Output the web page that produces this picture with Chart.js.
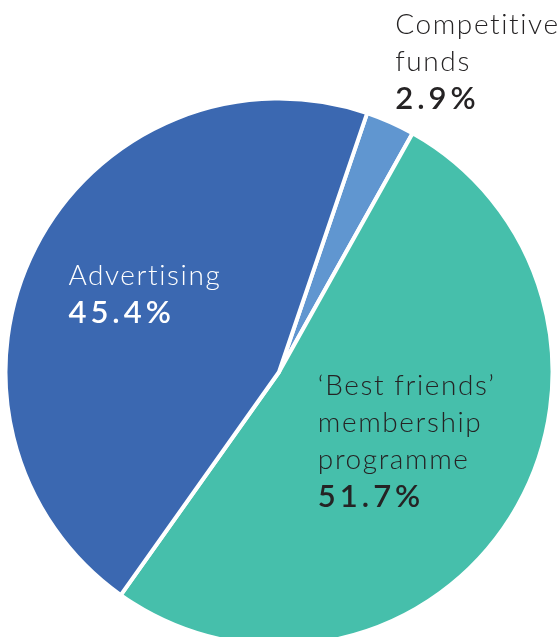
<!DOCTYPE html>
<html>
<head>
<meta charset="utf-8">
<script src="https://cdn.jsdelivr.net/npm/chart.js@4.4.1/dist/chart.umd.min.js"></script>
<style>
  html, body { margin: 0; padding: 0; background: #ffffff; overflow: hidden; }
  #wrap { width: 558px; height: 637px; position: relative; }
  canvas { display: block; }
</style>
</head>
<body>
<div id="wrap"><canvas id="pie" width="558" height="637"></canvas></div>
<script>
// Share of members by recruitment channel
const categories = ["Competitive funds", "'Best friends' membership programme", "Advertising"];
const shares = [2.9, 51.7, 45.4];
const labelLines = [
  ["Competitive", "funds"],
  ["\u2018Best friends\u2019", "membership", "programme"],
  ["Advertising"]
];
const sliceColors = ["#6096d0", "#46bfab", "#3b68b1"];
const textColors = ["#252324", "#252324", "#ffffff"];

// label anchors, in units of the pie radius from its centre (left edge, first baseline)
const labelAnchors = [
  { dx: 0.425, dy: -1.235 },
  { dx: 0.142, dy: 0.085 },
  { dx: -0.77, dy: -0.318 }
];

const FONT_LIGHT = "300 28px Lato, 'Open Sans', sans-serif";
const FONT_BOLD = "600 31px Lato, 'Open Sans', sans-serif";
const LINE_H = 37;

const sliceLabels = {
  id: 'sliceLabels',
  afterDatasetsDraw(chart) {
    const ctx = chart.ctx;
    const meta = chart.getDatasetMeta(0);
    meta.data.forEach((arc, i) => {
      const r = arc.outerRadius;
      const x = arc.x + labelAnchors[i].dx * r;
      let y = arc.y + labelAnchors[i].dy * r;
      ctx.save();
      ctx.fillStyle = textColors[i];
      ctx.textAlign = 'left';
      ctx.textBaseline = 'alphabetic';
      ctx.font = FONT_LIGHT;
      ctx.letterSpacing = '1.6px';
      labelLines[i].forEach(line => {
        ctx.fillText(line, x, y);
        y += LINE_H;
      });
      ctx.font = FONT_BOLD;
      ctx.letterSpacing = '4px';
      ctx.fillText(shares[i].toFixed(1) + '%', x, y + 1);
      ctx.restore();
    });
  }
};

new Chart(document.getElementById('pie'), {
  type: 'pie',
  data: {
    labels: categories,
    datasets: [{
      data: shares,
      backgroundColor: sliceColors,
      borderColor: '#ffffff',
      borderWidth: 4,
      hoverOffset: 0
    }]
  },
  options: {
    responsive: false,
    animation: false,
    devicePixelRatio: 1,
    rotation: 18.8,
    radius: 273.5,
    layout: { padding: { top: 107, bottom: 0, left: 0, right: 0 } },
    plugins: {
      legend: { display: false },
      tooltip: { enabled: false }
    }
  },
  plugins: [sliceLabels]
});
</script>
</body>
</html>
